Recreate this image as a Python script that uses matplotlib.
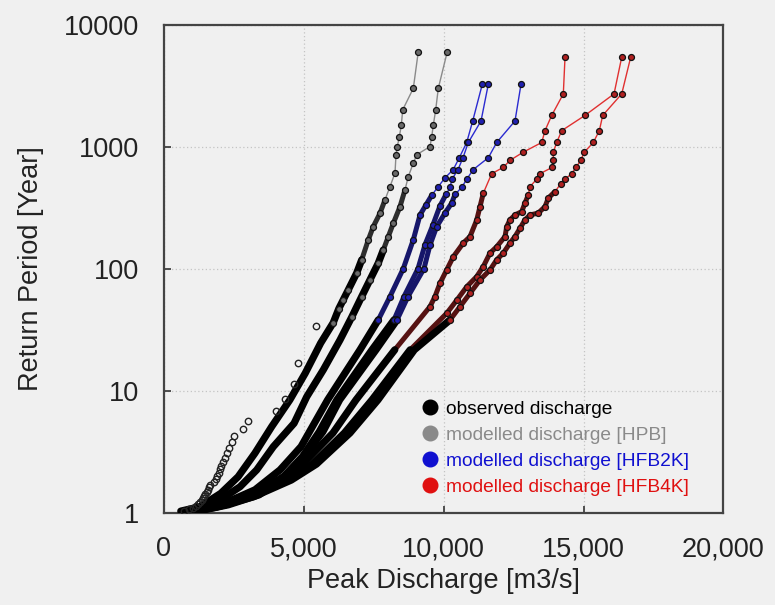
import numpy as np
import matplotlib
matplotlib.use("Agg")
import matplotlib.pyplot as plt
from matplotlib.lines import Line2D
from matplotlib.ticker import FuncFormatter, FixedLocator, NullLocator

plt.rcParams['font.family'] = ['Liberation Sans', 'DejaVu Sans']

# ---------------- data ----------------
obs_T = [34, 17, 11.33, 8.5, 6.8, 5.67, 4.86, 4.25, 3.78, 3.4, 3.09, 2.83, 2.62, 2.43,
         2.27, 2.125, 2.0, 1.89, 1.79, 1.7, 1.62, 1.545, 1.478, 1.417, 1.36, 1.308,
         1.259, 1.214, 1.172, 1.133, 1.097, 1.0625, 1.03]
obs_Q = [5418, 4786, 4643, 4321, 3988, 3000, 2821, 2500, 2430, 2321, 2250, 2180, 2110, 2050,
         2000, 1950, 1900, 1850, 1790, 1650, 1600, 1560, 1520, 1480, 1440, 1400,
         1350, 1290, 1220, 1130, 1030, 900, 700]

hpb_a_Q = [9091, 8913, 8534, 8484, 8412, 8341, 8294, 8258, 8080, 7901, 7722, 7482, 7304,
           7068, 6889, 6589, 6400, 6250, 6050, 5600, 5050, 4500, 3850, 3250, 2650, 2030, 1290, 600]
hpb_a_T = [6001, 3000, 2000, 1500, 1200, 1000, 857, 606, 470, 366, 284, 221, 172,
           118, 92, 67, 55, 47, 36, 24.5, 13.9, 8.4, 5.07, 3.07, 1.97, 1.44, 1.12, 1.03]

hpb_b_Q = [10128, 9806, 9713, 9628, 9570, 9510, 9034, 8913, 8734, 8616, 8437, 8198, 8019,
           7840, 7661, 7365, 7068, 6710, 6292, 5695, 5102, 4650, 3907, 3314, 2717, 2002, 1287, 700]
hpb_b_T = [6001, 3000, 2000, 1500, 1200, 1000, 857, 731, 568, 442, 322, 235, 183,
           142, 111, 81, 59, 40, 26, 14.8, 8.9, 5.4, 3.47, 2.24, 1.63, 1.27, 1.09, 1.02]

hfb2k_a_Q = [11379, 11036, 10821, 10557, 10342, 10046, 9806, 9581, 9367, 9152, 8912, 8555,
             8080, 7661, 7007, 5850, 4900, 4147, 3253, 2181, 1108]
hfb2k_a_T = [3241, 1620, 1080, 810, 648, 554, 470, 402, 333, 275, 172, 100,
             59, 38, 21.6, 8.4, 3.48, 2.24, 1.54, 1.20, 1.05]

hfb2k_b_Q = [11594, 11333, 10879, 10689, 10511, 10296, 10225, 10082, 9867, 9617, 9331, 9081,
             8580, 8223, 7436, 6180, 5550, 4950, 4300, 3300, 2200, 1108]
hfb2k_b_T = [3241, 1620, 1080, 810, 648, 540, 463, 405, 327, 229, 157, 100,
             59, 38, 21.6, 8.4, 4.6, 2.88, 2.0, 1.40, 1.16, 1.03]

hfb2k_c_Q = [12763, 12548, 11894, 11594, 11058, 10821, 10643, 10403, 10285, 10046, 9749, 9509,
             9295, 8723, 8330, 7579, 6280, 5680, 5000, 4400, 3400, 2300, 1216]
hfb2k_c_T = [3241, 1620, 1080, 810, 648, 540, 463, 405, 344, 285, 221, 156,
             100, 59, 38, 21.6, 8.4, 4.6, 2.88, 2.0, 1.40, 1.16, 1.03]

hfb4k_a_Q = [14336, 14275, 13860, 13621, 13503, 12845, 12370, 12130, 11715, 11415, 11297, 11179,
             10940, 10700, 10342, 10106, 9867, 9688, 9509, 8250, 6864, 6040, 5100, 4250, 3000,
             1800, 751]
hfb4k_a_T = [5401, 2700, 1800, 1350, 1080, 900, 771, 675, 600, 415, 322, 250,
             183, 162, 125, 97.6, 75.9, 59, 48.8, 21.6, 8.4, 4.5, 2.7, 1.92, 1.40,
             1.13, 1.03]

hfb4k_b_Q = [16363, 16088, 15051, 14218, 14039, 13917, 13917, 13880, 13442, 13324, 13085, 13024,
             12906, 12788, 12548, 12370, 12252, 12191, 11894, 11655, 11415, 11179, 10822, 10464,
             10106, 8800, 7436, 6450, 5300, 4400, 3050, 1780, 822]
hfb4k_b_T = [5401, 2700, 1800, 1350, 1080, 900, 771, 675, 600, 540, 470, 402,
             344, 293, 275, 251, 221, 183, 151, 134, 104, 86, 71, 55,
             43, 21.6, 8.4, 4.5, 2.5, 1.85, 1.35, 1.11, 1.02]

hfb4k_c_Q = [16684, 16363, 15684, 15562, 15348, 15026, 14897, 14729, 14575, 14336, 14182, 13978,
             13739, 13621, 13381, 13085, 12906, 12727, 12548, 12370, 12130, 11894, 11655, 11297,
             10940, 10582, 10225, 8950, 7650, 6650, 5450, 4550, 3200, 1880, 930]
hfb4k_c_T = [5401, 2700, 1800, 1350, 1080, 900, 771, 675, 600, 540, 494, 428,
             378, 322, 285, 275, 251, 214, 183, 162, 134, 118, 97.6, 80.7,
             62.8, 48.8, 38, 21.6, 8.4, 4.5, 2.5, 1.85, 1.35, 1.11, 1.02]

x_ticks = [0, 5000, 10000, 15000, 20000]
y_ticks = [1, 10, 100, 1000, 10000]
legend_labels = ['observed discharge', 'modelled discharge [HPB]',
                 'modelled discharge [HFB2K]', 'modelled discharge [HFB4K]']
legend_colors = ['#000000', '#8a8a8a', '#1010d0', '#e01010']

# ---------------- figure ----------------
bg = '#f0f0f0'
fig = plt.figure(figsize=(7.75, 6.05), dpi=100, facecolor=bg)
ax = fig.add_axes([0.2116, 0.1526, 0.7219, 0.8069], facecolor=bg)

series = [
    (hpb_a_Q, hpb_a_T, '#8a8a8a', '#2e2e2e', '#6a6a6a', 150),
    (hpb_b_Q, hpb_b_T, '#8a8a8a', '#2e2e2e', '#6a6a6a', 150),
    (hfb2k_a_Q, hfb2k_a_T, '#2a2ad0', '#16166a', '#2020b0', 40),
    (hfb2k_b_Q, hfb2k_b_T, '#2a2ad0', '#16166a', '#2020b0', 40),
    (hfb2k_c_Q, hfb2k_c_T, '#2a2ad0', '#16166a', '#2020b0', 40),
    (hfb4k_a_Q, hfb4k_a_T, '#e03030', '#561212', '#b02020', 40),
    (hfb4k_b_Q, hfb4k_b_T, '#e03030', '#561212', '#b02020', 40),
    (hfb4k_c_Q, hfb4k_c_T, '#e03030', '#561212', '#b02020', 40),
]

for Q, T, lc, chain_c, mface, tband in series:
    Q = np.asarray(Q, float)
    T = np.asarray(T, float)
    ax.plot(Q, T, color=lc, lw=1.0, zorder=2)
    mid = T <= 450
    ax.plot(Q[mid], T[mid], color=chain_c, lw=3.6, zorder=3,
            solid_capstyle='round', solid_joinstyle='round')
    low = T <= tband
    ax.plot(Q[low], T[low], color='black', lw=5.2, zorder=4, solid_capstyle='round',
            solid_joinstyle='round')
    up = T > 30
    ax.plot(Q[up], T[up], linestyle='none', marker='o', markersize=4.3,
            markerfacecolor=mface, markeredgecolor='#111111', markeredgewidth=0.9, zorder=5)

ax.plot(obs_Q, obs_T, linestyle='none', marker='o', markersize=4.6,
        markerfacecolor='none', markeredgecolor='#222222', markeredgewidth=1.0, zorder=6)

ax.set_yscale('log')
ax.set_xlim(0, 20000)
ax.set_ylim(1, 10000)
ax.xaxis.set_major_locator(FixedLocator(x_ticks))
ax.yaxis.set_major_locator(FixedLocator(y_ticks))
ax.yaxis.set_minor_locator(NullLocator())
ax.xaxis.set_major_formatter(FuncFormatter(lambda v, p: f'{int(v):,}'))
ax.yaxis.set_major_formatter(FuncFormatter(lambda v, p: f'{int(round(v))}'))

ax.tick_params(axis='both', direction='in', length=5, width=1.2, colors='#333333',
               labelsize=19.5, labelcolor='#222222')
ax.tick_params(axis='x', pad=17)
ax.tick_params(axis='y', pad=18)

for s in ax.spines.values():
    s.set_color('#444444')
    s.set_linewidth(1.6)

ax.grid(True, which='major', linestyle=(0, (1, 2)), color='#c4c4c4', lw=0.9, zorder=0)

ax.set_xlabel('Peak Discharge [m3/s]', fontsize=19.5, color='#222222', labelpad=4)
ax.set_ylabel('Return Period [Year]', fontsize=19.5, color='#222222', labelpad=14)

handles = [Line2D([], [], linestyle='none', marker='o', markersize=10.5,
                  markerfacecolor=c, markeredgecolor=c) for c in legend_colors]
leg = ax.legend(handles, legend_labels, loc='upper left', bbox_to_anchor=(0.462, 0.230),
                frameon=False, fontsize=13.8, handlelength=0.8, handletextpad=0.42,
                labelspacing=0.45, borderpad=0, borderaxespad=0)
for t, c in zip(leg.get_texts(), legend_colors):
    t.set_color(c)

fig.savefig('out.png', dpi=100, facecolor=bg)
